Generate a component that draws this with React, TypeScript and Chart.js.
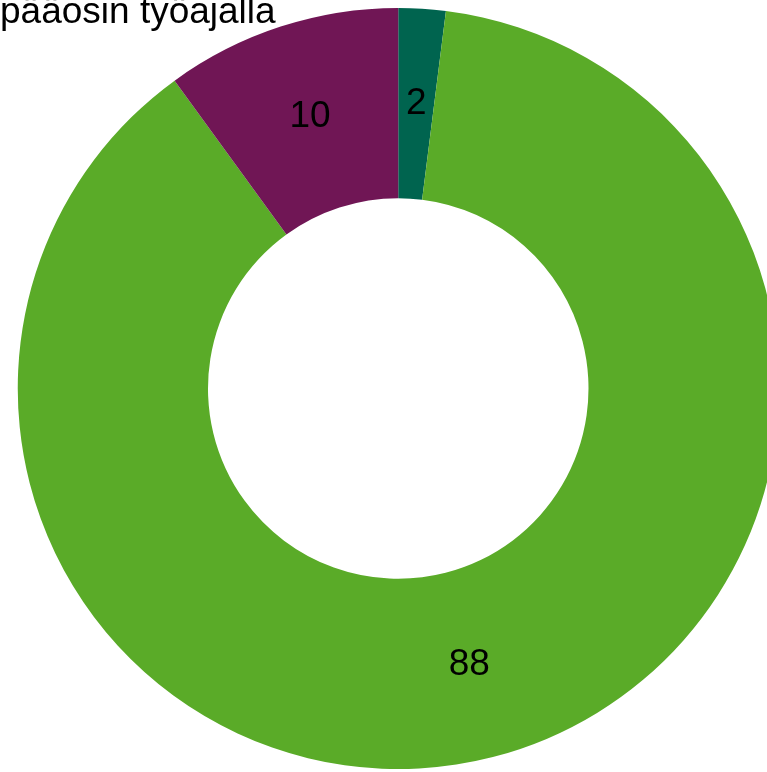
import React, { useEffect, useRef } from "react";
import { Chart, registerables } from "chart.js";

Chart.register(...registerables);

const categories = ["A", "B", "C"];
const values = [2, 88, 10];
const colors = ["#00644f", "#5aab28", "#701655"];
const titleText = "pääosin työajalla";

const labelPlugin = {
  id: "arcLabels",
  afterDatasetsDraw(chart: any) {
    const ctx = chart.ctx;
    const meta = chart.getDatasetMeta(0);
    ctx.save();
    ctx.font = '37px "Liberation Sans", Arial, sans-serif';
    ctx.fillStyle = "#000000";
    ctx.textAlign = "center";
    ctx.textBaseline = "middle";
    meta.data.forEach((arc: any, i: number) => {
      const p = arc.getCenterPoint();
      ctx.fillText(String(values[i]), p.x, p.y);
    });
    ctx.textAlign = "left";
    ctx.textBaseline = "alphabetic";
    ctx.fillText(titleText, 0, 23);
    ctx.restore();
  },
};

export default function App() {
  const ref = useRef<HTMLCanvasElement | null>(null);
  useEffect(() => {
    document.body.style.margin = "0";
    const chart = new Chart(ref.current as HTMLCanvasElement, {
      type: "doughnut",
      data: {
        labels: categories,
        datasets: [
          {
            data: values,
            backgroundColor: colors,
            borderWidth: 0,
          },
        ],
      },
      options: {
        responsive: false,
        animation: false,
        cutout: "50%",
        layout: { padding: { left: 17.5, right: 0, top: 8, bottom: 3 } },
        plugins: {
          legend: { display: false },
          tooltip: { enabled: false },
          title: { display: false },
        },
      },
      plugins: [labelPlugin],
    });
    return () => chart.destroy();
  }, []);
  return (
    <div style={{ position: "fixed", left: 0, top: 0, width: 767, height: 772, overflow: "hidden", background: "#fff" }}>
      <canvas ref={ref} width={779} height={772} style={{ width: 779, height: 772, display: "block" }} />
    </div>
  );
}
